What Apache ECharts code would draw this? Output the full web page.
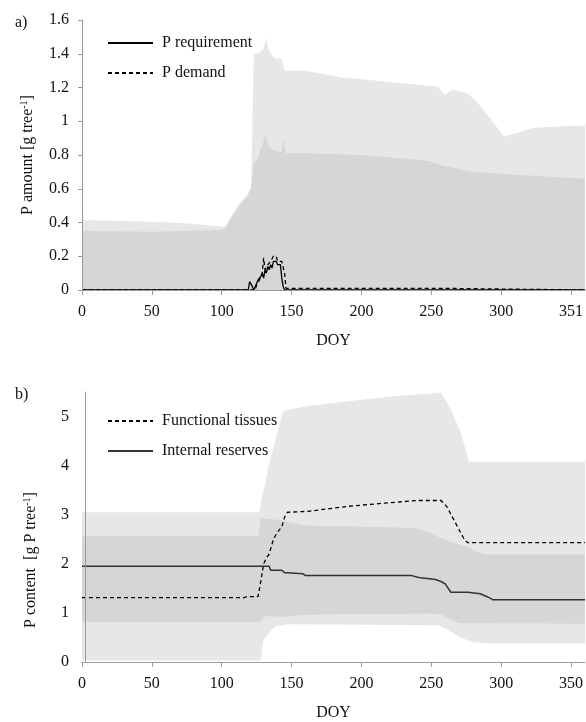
<!DOCTYPE html>
<html lang="en">
<head>
    <meta charset="UTF-8"/>
    <title>P amount and P content by DOY</title>
    <script src="https://cdn.jsdelivr.net/npm/echarts@6/dist/echarts.min.js"></script>
    <style>
        html, body { margin: 0; padding: 0; background: #fff; }
        #main { width: 586px; height: 722px; }
    </style>
</head>
<body>
<div id="main"></div>
<script type="text/javascript">

    // ---- panel a) P amount [g tree-1] ----
    var xTicksA = ['0', '50', '100', '150', '200', '250', '300', '351'];
    var xTicksB = ['0', '50', '100', '150', '200', '250', '300', '350'];

    var lightADays = [0, 0.8, 1, 20, 48, 75, 101, 103, 108, 113, 118, 121, 122, 123, 126, 129, 131, 132, 133, 134, 137, 140, 143, 144, 145, 146, 150, 160, 186, 217, 243, 255, 258, 260, 265, 276, 281, 291, 302, 311, 323, 342, 360];
    var lightAVals = [0.78, 0.78, 0.415, 0.41, 0.405, 0.395, 0.375, 0.38, 0.455, 0.52, 0.56, 0.61, 1.0, 1.40, 1.40, 1.42, 1.46, 1.50, 1.44, 1.42, 1.38, 1.37, 1.37, 1.37, 1.30, 1.29, 1.30, 1.30, 1.26, 1.235, 1.215, 1.205, 1.17, 1.155, 1.19, 1.165, 1.13, 1.03, 0.91, 0.93, 0.96, 0.97, 0.975];

    var darkADays = [0, 50, 100, 103, 108, 113, 118, 121, 123, 126, 128, 130, 131, 132, 134, 137, 140, 143, 144, 146, 160, 200, 243, 250, 257, 281, 317, 360];
    var darkAVals = [0.35, 0.345, 0.355, 0.37, 0.44, 0.50, 0.55, 0.60, 0.75, 0.78, 0.84, 0.88, 0.92, 0.89, 0.85, 0.83, 0.82, 0.82, 0.89, 0.81, 0.81, 0.80, 0.77, 0.76, 0.74, 0.70, 0.68, 0.66];

    var reqDays = [0, 119, 120, 121, 122, 123, 124, 125, 126, 127, 128, 129, 130, 131, 132, 133, 134, 135, 136, 137, 138, 139, 140, 141, 142, 143, 144, 145, 360];
    var reqVals = [0, 0, 0.05, 0.04, 0.02, 0, 0.02, 0.04, 0.06, 0.05, 0.08, 0.10, 0.07, 0.12, 0.10, 0.14, 0.12, 0.15, 0.13, 0.17, 0.16, 0.17, 0.15, 0.16, 0.15, 0.07, 0.02, 0, 0];

    var demDays = [0, 124, 125, 127, 129, 130, 131, 133, 135, 137, 139, 140, 143, 144, 145, 146, 256, 257, 360];
    var demVals = [0, 0, 0.03, 0.06, 0.10, 0.19, 0.12, 0.15, 0.17, 0.20, 0.20, 0.17, 0.17, 0.16, 0.10, 0.01, 0.01, 0, 0];

    // ---- panel b) P content [g P tree-1] ----
    var lightBUpDays = [0, 127, 129, 131, 133, 137, 140.5, 144, 147, 161, 190, 221, 250, 257, 264, 271, 277, 360];
    var lightBUpVals = [3.05, 3.05, 3.40, 3.60, 3.94, 4.35, 4.74, 5.11, 5.14, 5.21, 5.31, 5.41, 5.47, 5.49, 5.14, 4.68, 4.08, 4.08];

    var lightBLoDays = [0, 128, 129, 130, 133.5, 138, 147, 200, 255, 260, 265, 271, 280, 290, 360];
    var lightBLoVals = [0.03, 0.03, 0.30, 0.46, 0.58, 0.72, 0.77, 0.76, 0.75, 0.68, 0.60, 0.50, 0.40, 0.38, 0.38];

    var darkBUpDays = [0, 126, 128, 130, 140, 146, 150, 160, 226, 240, 250, 262, 275, 282, 290, 360];
    var darkBUpVals = [2.56, 2.56, 2.95, 2.93, 2.90, 2.86, 2.83, 2.78, 2.74, 2.72, 2.62, 2.46, 2.36, 2.25, 2.19, 2.19];

    var darkBLoDays = [0, 128, 130, 145, 160, 250, 257, 263, 270, 360];
    var darkBLoVals = [0.82, 0.82, 0.93, 0.92, 0.96, 0.99, 0.97, 0.88, 0.79, 0.78];

    var ftDays = [0, 116, 118, 126, 128, 130, 132, 134, 137, 140, 143, 145, 147, 162, 190, 214, 240, 257, 261, 273, 276, 360];
    var ftVals = [1.31, 1.31, 1.33, 1.33, 1.65, 2.00, 2.12, 2.20, 2.50, 2.65, 2.75, 2.95, 3.05, 3.07, 3.17, 3.23, 3.29, 3.29, 3.17, 2.53, 2.43, 2.43];

    var irDays = [0, 134, 135, 143, 145, 147, 158, 160, 236, 241, 253, 257, 260, 264, 276, 285, 290, 294, 360];
    var irVals = [1.95, 1.95, 1.87, 1.87, 1.82, 1.82, 1.80, 1.76, 1.76, 1.72, 1.68, 1.64, 1.59, 1.42, 1.42, 1.39, 1.33, 1.27, 1.27];

    function pairs(xs, ys) {
        return xs.map(function (x, i) { return [x, ys[i]]; });
    }

    var LIGHT = '#e7e7e7';
    var DARK = '#d6d6d8';
    var FONT = '"Liberation Serif", "DejaVu Serif", serif';

    function areaSeries(name, idx, data, color, z) {
        return {
            name: name, type: 'line', xAxisIndex: idx, yAxisIndex: idx,
            data: data, symbol: 'none', silent: true, z: z,
            lineStyle: { width: 0 },
            areaStyle: { color: color, opacity: 1, origin: 'start' }
        };
    }

    function lineSeries(name, idx, data, color, type, width) {
        return {
            name: name, type: 'line', xAxisIndex: idx, yAxisIndex: idx,
            data: data, symbol: 'none', z: 5,
            itemStyle: { color: color },
            lineStyle: { color: color, width: width, type: type }
        };
    }

    function xAxis(idx, labels) {
        return {
            type: 'value', gridIndex: idx, min: 0, max: 360, interval: 50, z: 10,
            name: 'DOY', nameLocation: 'middle', nameGap: 43,
            nameTextStyle: { fontFamily: FONT, fontSize: 16, color: '#111' },
            axisLine: { lineStyle: { color: '#9a9a9a' } },
            axisTick: { length: 5, lineStyle: { color: '#9a9a9a' } },
            splitLine: { show: false },
            axisLabel: {
                margin: 14, fontFamily: FONT, fontSize: 16, color: '#111',
                showMaxLabel: false,
                formatter: function (v) { return labels[Math.round(v / 50)] || ''; }
            }
        };
    }

    function legend(names, top) {
        return {
            data: names, orient: 'vertical', left: 107, top: top, padding: 0,
            itemWidth: 45, itemHeight: 14, itemGap: 14,
            itemStyle: { opacity: 0 },
            textStyle: { fontFamily: FONT, fontSize: 16, color: '#111', padding: [0, 0, 0, 4] }
        };
    }

    var myChart = echarts.init(document.getElementById('main'), null, { renderer: 'canvas' });

    var option = {
        animation: false,
        backgroundColor: '#fff',
        title: [
            { text: 'a)', left: 10, top: 10, textStyle: { fontFamily: FONT, fontSize: 16, fontWeight: 'normal', color: '#111' } },
            { text: 'b)', left: 10, top: 382, textStyle: { fontFamily: FONT, fontSize: 16, fontWeight: 'normal', color: '#111' } }
        ],
        legend: [
            legend(['P requirement', 'P demand'], 35),
            legend(['Functional tissues', 'Internal reserves'], 413)
        ],
        grid: [
            { left: 82, right: 0, top: 20, height: 270 },
            { left: 82, right: 0, top: 392, height: 274 }
        ],
        xAxis: [xAxis(0, xTicksA), xAxis(1, xTicksB)],
        yAxis: [
            {
                type: 'value', gridIndex: 0, min: 0, max: 1.6, interval: 0.2, z: 10,
                name: 'P amount [g tree{sup|-1}]', nameLocation: 'middle', nameGap: 45,
                nameTextStyle: {
                    fontFamily: FONT, fontSize: 16, color: '#111',
                    rich: { sup: { fontFamily: FONT, fontSize: 10, color: '#111', verticalAlign: 'top', padding: [0, 0, 8, 0] } }
                },
                axisLine: { show: true, lineStyle: { color: '#9a9a9a' } },
                axisTick: { show: true, length: 4, lineStyle: { color: '#9a9a9a' } },
                splitLine: { show: false },
                axisLabel: { margin: 13, fontFamily: FONT, fontSize: 16, color: '#111' }
            },
            {
                type: 'value', gridIndex: 1, min: 0, max: 5.5, interval: 1, z: 10, offset: -3,
                name: 'P content  [g P tree{sup|-1}]', nameLocation: 'middle', nameGap: 45,
                nameTextStyle: {
                    fontFamily: FONT, fontSize: 16, color: '#111', padding: [0, 66, 0, 0],
                    rich: { sup: { fontFamily: FONT, fontSize: 10, color: '#111', verticalAlign: 'top', padding: [0, 0, 8, 0] } }
                },
                axisLine: { show: true, lineStyle: { color: '#9a9a9a' } },
                axisTick: { show: false },
                splitLine: { show: false },
                axisLabel: {
                    margin: 16, fontFamily: FONT, fontSize: 16, color: '#111',
                    formatter: function (v) { return v % 1 === 0 ? String(v) : ''; }
                }
            }
        ],
        series: [
            areaSeries('a-light', 0, pairs(lightADays, lightAVals), LIGHT, 1),
            areaSeries('a-dark', 0, pairs(darkADays, darkAVals), DARK, 2),
            lineSeries('P requirement', 0, pairs(reqDays, reqVals), '#000', 'solid', 1.3),
            lineSeries('P demand', 0, pairs(demDays, demVals), '#000', [4, 3], 1.3),

            areaSeries('b-light-up', 1, pairs(lightBUpDays, lightBUpVals), LIGHT, 1),
            areaSeries('b-dark-up', 1, pairs(darkBUpDays, darkBUpVals), DARK, 2),
            areaSeries('b-dark-lo', 1, pairs(darkBLoDays, darkBLoVals), LIGHT, 3),
            areaSeries('b-light-lo', 1, pairs(lightBLoDays, lightBLoVals), '#fff', 4),
            lineSeries('Functional tissues', 1, pairs(ftDays, ftVals), '#000', [4, 3], 1.3),
            lineSeries('Internal reserves', 1, pairs(irDays, irVals), '#333', 'solid', 1.5)
        ]
    };

    myChart.setOption(option);
</script>
</body>
</html>
